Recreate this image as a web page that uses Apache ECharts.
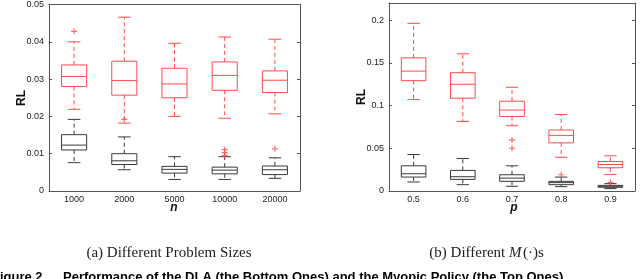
<!DOCTYPE html>
<html><head><meta charset="utf-8">
<script src="https://cdn.jsdelivr.net/npm/echarts@6/dist/echarts.min.js"></script>
<style>html,body{margin:0;padding:0;background:#fff}#c{width:640px;height:279px}</style>
</head><body><div id="c"></div>
<script>
// Panel (a): categories n
const nCats = ['1000', '2000', '5000', '10000', '20000'];
// [low whisker, Q1, median, Q3, high whisker]
const aMyopic = [
  [0.0219, 0.0280, 0.0307, 0.0338, 0.0400],
  [0.0182, 0.0257, 0.0296, 0.0348, 0.0466],
  [0.0200, 0.0250, 0.0287, 0.0329, 0.0396],
  [0.0195, 0.0270, 0.0310, 0.0346, 0.0413],
  [0.0207, 0.0264, 0.0297, 0.0322, 0.0407]
];
const aDLA = [
  [0.0076, 0.0110, 0.0123, 0.0151, 0.0192],
  [0.0057, 0.0071, 0.0081, 0.0100, 0.0145],
  [0.0031, 0.0048, 0.0058, 0.0066, 0.0092],
  [0.0031, 0.0046, 0.0056, 0.0064, 0.0092],
  [0.0034, 0.0044, 0.0057, 0.0067, 0.0089]
];
const aOutliers = [[0, 0.0428], [1, 0.0192], [3, 0.0111], [3, 0.0103], [3, 0.0095], [4, 0.0113]];

// Panel (b): categories p
const pCats = ['0.5', '0.6', '0.7', '0.8', '0.9'];
const bMyopic = [
  [0.1070, 0.1291, 0.1403, 0.1558, 0.1962],
  [0.0814, 0.1086, 0.1249, 0.1384, 0.1605],
  [0.0764, 0.0872, 0.0947, 0.1051, 0.1214],
  [0.0395, 0.0563, 0.0651, 0.0714, 0.0895],
  [0.0194, 0.0272, 0.0310, 0.0345, 0.0412]
];
const bDLA = [
  [0.0105, 0.0163, 0.0202, 0.0295, 0.0427],
  [0.0074, 0.0136, 0.0167, 0.0241, 0.0380],
  [0.0055, 0.0113, 0.0151, 0.0190, 0.0295],
  [0.0051, 0.0074, 0.0098, 0.0113, 0.0163],
  [0.0028, 0.0043, 0.0055, 0.0066, 0.0086]
];
const bOutliers = [[2, 0.0598], [2, 0.0500], [3, 0.0190], [4, 0.0101]];

const RED = '#ff4a4a';
const BLACK = '#3a3a3a';
const AXIS = '#555555';

function boxRender(color) {
  return function (params, api) {
    const x = api.value(0);
    const band = api.size([1, 0])[0];
    const bw = band * 0.5, half = bw / 2, cap = bw / 4;
    const cx = api.coord([x, 0])[0];
    const yLo = api.coord([x, api.value(1)])[1];
    const yQ1 = api.coord([x, api.value(2)])[1];
    const yMd = api.coord([x, api.value(3)])[1];
    const yQ3 = api.coord([x, api.value(4)])[1];
    const yHi = api.coord([x, api.value(5)])[1];
    const solid = { stroke: color, lineWidth: 1, fill: null };
    const dashed = { stroke: color, lineWidth: 1, lineDash: [4, 3] };
    return {
      type: 'group',
      children: [
        { type: 'rect', shape: { x: cx - half, y: yQ3, width: bw, height: yQ1 - yQ3 }, style: solid },
        { type: 'line', shape: { x1: cx - half, y1: yMd, x2: cx + half, y2: yMd }, style: solid },
        { type: 'line', shape: { x1: cx, y1: yQ3, x2: cx, y2: yHi }, style: dashed },
        { type: 'line', shape: { x1: cx, y1: yQ1, x2: cx, y2: yLo }, style: dashed },
        { type: 'line', shape: { x1: cx - cap, y1: yHi, x2: cx + cap, y2: yHi }, style: solid },
        { type: 'line', shape: { x1: cx - cap, y1: yLo, x2: cx + cap, y2: yLo }, style: solid }
      ]
    };
  };
}

function toData(stats) { return stats.map((s, i) => [i].concat(s)); }

const tickFont = { fontSize: 9, color: '#1a1a1a', fontFamily: 'Liberation Sans, Arial, sans-serif' };
function xAx(gi, cats) {
  return [{
    type: 'category', gridIndex: gi, data: cats, position: 'bottom',
    axisLine: { show: true, onZero: false, lineStyle: { color: AXIS } }, axisTick: { show: false },
    axisLabel: Object.assign({ margin: 4 }, tickFont), splitLine: { show: false }
  }, {
    type: 'category', gridIndex: gi, data: cats, position: 'top',
    axisLine: { show: true, onZero: false, lineStyle: { color: AXIS } }, axisTick: { show: false }, axisLabel: { show: false }
  }];
}
function yAx(gi, max, interval, showMax) {
  return [{
    type: 'value', gridIndex: gi, min: 0, max: max, interval: interval, position: 'left',
    axisLine: { show: true, onZero: false, lineStyle: { color: AXIS } },
    axisTick: { show: true, inside: true, length: 3, lineStyle: { color: AXIS } },
    axisLabel: Object.assign({ margin: 5, showMaxLabel: showMax }, tickFont),
    splitLine: { show: false }
  }, {
    type: 'value', gridIndex: gi, min: 0, max: max, interval: interval, position: 'right',
    axisLine: { show: true, onZero: false, lineStyle: { color: AXIS } },
    axisTick: { show: true, inside: true, length: 3, lineStyle: { color: AXIS } },
    axisLabel: { show: false }, splitLine: { show: false }
  }];
}

const plus = 'path://M4,0H6V4H10V6H6V10H4V6H0V4H4Z';
const sans = 'Liberation Sans, Arial, sans-serif';
const serif = 'Liberation Serif, DejaVu Serif, serif';

const option = {
  animation: false,
  grid: [
    { left: 49, top: 2, width: 251, height: 189 },
    { left: 389, top: 3, width: 246, height: 188 }
  ],
  xAxis: xAx(0, nCats).concat(xAx(1, pCats)),
  yAxis: yAx(0, 0.05, 0.01, true).concat(yAx(1, 0.22, 0.05, false)),
  series: [
    { type: 'custom', xAxisIndex: 0, yAxisIndex: 0, renderItem: boxRender(RED), data: toData(aMyopic), encode: { x: 0, y: [1, 2, 3, 4, 5] } },
    { type: 'custom', xAxisIndex: 0, yAxisIndex: 0, renderItem: boxRender(BLACK), data: toData(aDLA), encode: { x: 0, y: [1, 2, 3, 4, 5] } },
    { type: 'scatter', xAxisIndex: 0, yAxisIndex: 0, symbol: plus, symbolSize: 6, itemStyle: { color: RED }, data: aOutliers },
    { type: 'custom', xAxisIndex: 2, yAxisIndex: 2, renderItem: boxRender(RED), data: toData(bMyopic), encode: { x: 0, y: [1, 2, 3, 4, 5] } },
    { type: 'custom', xAxisIndex: 2, yAxisIndex: 2, renderItem: boxRender(BLACK), data: toData(bDLA), encode: { x: 0, y: [1, 2, 3, 4, 5] } },
    { type: 'scatter', xAxisIndex: 2, yAxisIndex: 2, symbol: plus, symbolSize: 6, itemStyle: { color: RED }, data: bOutliers }
  ],
  graphic: [
    { type: 'text', x: 22, y: 98, rotation: Math.PI / 2, style: { text: 'RL', fontSize: 12, fontWeight: 'bold', fontFamily: sans, fill: '#111', textAlign: 'center', textVerticalAlign: 'middle' } },
    { type: 'text', x: 362, y: 97, rotation: Math.PI / 2, style: { text: 'RL', fontSize: 12, fontWeight: 'bold', fontFamily: sans, fill: '#111', textAlign: 'center', textVerticalAlign: 'middle' } },
    { type: 'text', x: 174, y: 208, style: { text: 'n', fontSize: 12, fontWeight: 'bold', fontStyle: 'italic', fontFamily: sans, fill: '#111', textAlign: 'center', textVerticalAlign: 'middle' } },
    { type: 'text', x: 514, y: 208, style: { text: 'p', fontSize: 12, fontWeight: 'bold', fontStyle: 'italic', fontFamily: sans, fill: '#111', textAlign: 'center', textVerticalAlign: 'middle' } },
    { type: 'text', x: 169, y: 253, style: { text: '(a) Different Problem Sizes', fontSize: 15, fontFamily: serif, fill: '#222', textAlign: 'center', textVerticalAlign: 'middle' } },
    { type: 'text', x: 509, y: 253, style: { text: '(b) Different ', fontSize: 15, fontFamily: serif, fill: '#222', textAlign: 'right', textVerticalAlign: 'middle' } },
    { type: 'text', x: 509, y: 253, style: { text: 'M', fontSize: 15, fontStyle: 'italic', fontFamily: serif, fill: '#222', textAlign: 'left', textVerticalAlign: 'middle' } },
    { type: 'text', x: 523, y: 253, style: { text: '(·)s', fontSize: 15, fontFamily: serif, fill: '#222', textAlign: 'left', textVerticalAlign: 'middle' } },
    { type: 'text', x: -8, y: 271, style: { text: 'Figure 2.', fontSize: 13, fontWeight: 'bold', fontFamily: sans, fill: '#000', textAlign: 'left', textVerticalAlign: 'top' } },
    { type: 'text', x: 63, y: 271, style: { text: 'Performance of the DLA (the Bottom Ones) and the Myopic Policy (the Top Ones)', fontSize: 13, fontWeight: 'bold', fontFamily: sans, fill: '#000', textAlign: 'left', textVerticalAlign: 'top' } }
  ]
};
const chart = echarts.init(document.getElementById('c'), null, { renderer: 'canvas' });
chart.setOption(option);
</script>
</body></html>
